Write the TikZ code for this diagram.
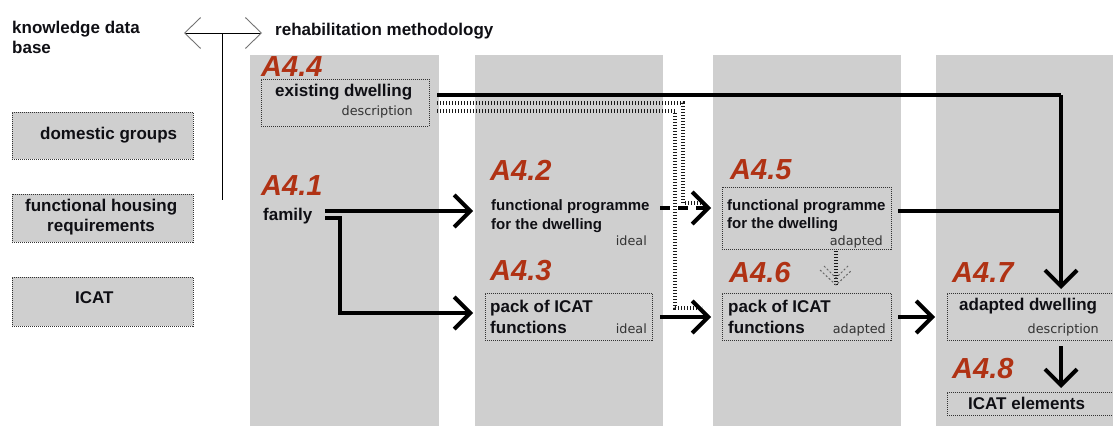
\documentclass[tikz,border=0pt]{standalone}
\usepackage{fontspec}
\setmainfont{Liberation Sans}
\newfontfamily\descfont{DejaVu Sans}
\usetikzlibrary{arrows.meta}
\definecolor{colgray}{RGB}{207,207,207}
\definecolor{labred}{RGB}{176,50,20}
\definecolor{ink}{RGB}{15,15,20}
\tikzset{
  col/.style={fill=colgray, draw=none, inner sep=0, anchor=north west},
  dbox/.style={draw=black!80, line width=0.8pt, dash pattern=on 1pt off 1pt, fill=colgray, inner sep=0, anchor=north west},
  tag/.style={text=labred, font=\fontsize{29}{29}\selectfont\bfseries\itshape, anchor=base west, inner sep=0},
  btxt/.style={font=\fontsize{17}{20}\selectfont\bfseries, anchor=base west, inner sep=0, text=ink},
  ptxt/.style={font=\fontsize{15}{18}\selectfont\bfseries, anchor=base west, inner sep=0, text=ink},
  dtxt/.style={font=\descfont\fontsize{12.8}{15}\selectfont, anchor=base east, inner sep=0, text=black!80},
  barb/.tip={Straight Barb[length=16pt,width=32pt]},
  flow/.style={line width=4pt, -barb},
  link/.style={line width=4pt},
  rail/.style={line width=4.5pt, dash pattern=on 1pt off 2pt, draw=black!90},
}
\begin{document}
\begin{tikzpicture}[x=1pt, y=-1pt]
\useasboundingbox (0,0) rectangle (1113,426);
\clip (0,0) rectangle (1113,426);
% columns
\node[col, minimum width=189pt, minimum height=371pt] (c1) at (250,55) {};
\node[col, minimum width=188pt, minimum height=371pt] (c2) at (475,55) {};
\node[col, minimum width=188pt, minimum height=371pt] (c3) at (713,55) {};
\node[col, minimum width=180pt, minimum height=371pt] (c4) at (936,55) {};
% header
\node[btxt] (kdb1) at (12,33) {knowledge data};
\node[btxt] (kdb2) at (12,53) {base};
\node[btxt] (rm) at (275,35) {rehabilitation methodology};
\coordinate (dl) at (184,33);
\coordinate (dr) at (262,33);
\coordinate (dm) at (222,33);
\coordinate (db) at (222,200);
\draw[line width=0.9pt, {Straight Barb[length=16pt,width=31pt,color=black!55]}-{Straight Barb[length=16pt,width=31pt,color=black!55]}] (dl) -- (dr);
\draw[line width=0.9pt] (dm) -- (db);
% left boxes
\node[dbox, minimum width=181pt, minimum height=47pt] (dg) at (12,112) {};
\node[btxt] (dgt) at (40,139) {domestic groups};
\node[dbox, minimum width=181pt, minimum height=48pt] (fhr) at (12,194) {};
\node[btxt] (fhr1) at (25,211) {functional housing};
\node[btxt] (fhr2) at (47,231) {requirements};
\node[dbox, minimum width=181pt, minimum height=49pt] (ic) at (12,277) {};
\node[btxt] (ict) at (75,303) {ICAT};
% A4.4
\node[tag] (t44) at (261,76) {A4.4};
\node[dbox, minimum width=168pt, minimum height=47pt] (b44) at (261,79) {};
\node[btxt] (b44a) at (275,96) {existing dwelling};
\node[dtxt] (b44b) at (413,115) {description};
% A4.1
\node[tag] (t41) at (261,195) {A4.1};
\node[btxt] (fam) at (263,220) {family};
% A4.2
\node[tag] (t42) at (490,180) {A4.2};
\node[ptxt] (p42a) at (491,210) {functional programme};
\node[ptxt] (p42b) at (491,229) {for the dwelling};
\node[dtxt] (p42c) at (647,245) {ideal};
% A4.3
\node[tag] (t43) at (490,280) {A4.3};
\node[dbox, minimum width=167pt, minimum height=47pt] (b43) at (485,293) {};
\node[btxt] (b43a) at (490,312) {pack of ICAT};
\node[btxt] (b43b) at (490,333) {functions};
\node[dtxt] (b43c) at (647,333) {ideal};
% A4.5
\node[tag] (t45) at (730,179) {A4.5};
\node[dbox, minimum width=169pt, minimum height=62pt] (b45) at (722,187) {};
\node[ptxt] (b45a) at (727,210) {functional programme};
\node[ptxt] (b45b) at (727,228) {for the dwelling};
\node[dtxt] (b45c) at (883,245) {adapted};
% A4.6
\node[tag] (t46) at (729,282) {A4.6};
\node[dbox, minimum width=169pt, minimum height=47pt] (b46) at (722,293) {};
\node[btxt] (b46a) at (728,312) {pack of ICAT};
\node[btxt] (b46b) at (728,333) {functions};
\node[dtxt] (b46c) at (886,333) {adapted};
% A4.7
\node[tag] (t47) at (952,282) {A4.7};
\node[dbox, minimum width=180pt, minimum height=47pt] (b47) at (947,293) {};
\node[btxt] (b47a) at (959,310) {adapted dwelling};
\node[dtxt] (b47b) at (1099,333) {description};
% A4.8
\node[tag] (t48) at (952,378) {A4.8};
\node[dbox, minimum width=180pt, minimum height=23pt] (b48) at (947,392) {};
\node[btxt] (b48a) at (968,409) {ICAT elements};
% coordinates for connectors
\coordinate (r1s) at (437,103);
\coordinate (r1c) at (683,103);
\coordinate (r1d) at (683,203);
\coordinate (r1e) at (702,203);
\coordinate (r2s) at (437,111);
\coordinate (r2c) at (675,111);
\coordinate (r2d) at (675,308);
\coordinate (r2e) at (702,308);
% rails (dotted links)
\draw[rail] (r1s) -- (r1c) -- (r1d) -- (r1e);
\draw[rail] (r2s) -- (r2c) -- (r2d) -- (r2e);
\coordinate (vtop) at (836,251);
\coordinate (vbot) at (836,285);
\draw[rail, line width=4pt] (vtop) -- (vbot);
\draw[black!60, line width=1pt, dash pattern=on 2pt off 2pt] (820,270) -- (vbot) -- (852,270);
\draw[black!60, line width=1pt, dash pattern=on 2pt off 2pt] (824,266) -- (836,278) -- (848,266);
% main connectors
\coordinate (edS) at (437,95);
\coordinate (edC) at (1061,95);
\coordinate (edT) at (1061,289);
\draw[link] (edS) -- (edC);
\draw[flow] (edC) -- (edT);
\coordinate (p5S) at (898,211);
\coordinate (p5E) at (1061,211);
\draw[link] (p5S) -- (p5E);
\coordinate (f1) at (325,211);
\coordinate (f1e) at (473,211);
\draw[flow] (f1) -- (f1e);
\coordinate (f2) at (325,218);
\coordinate (f2c) at (340,218);
\coordinate (f2d) at (340,313);
\coordinate (f2e) at (473,313);
\draw[flow] (f2) -- (f2c) -- (f2d) -- (f2e);
\coordinate (a2s) at (660,208);
\coordinate (a2e) at (711,208);
\draw[flow, dash pattern=on 10pt off 8pt] (a2s) -- (a2e);
\coordinate (a3s) at (660,317);
\coordinate (a3e) at (711,317);
\draw[flow] (a3s) -- (a3e);
\coordinate (a6s) at (898,317);
\coordinate (a6e) at (935,317);
\draw[flow] (a6s) -- (a6e);
\coordinate (a7s) at (1061,346);
\coordinate (a7e) at (1061,388);
\draw[flow] (a7s) -- (a7e);
\end{tikzpicture}
\end{document}
